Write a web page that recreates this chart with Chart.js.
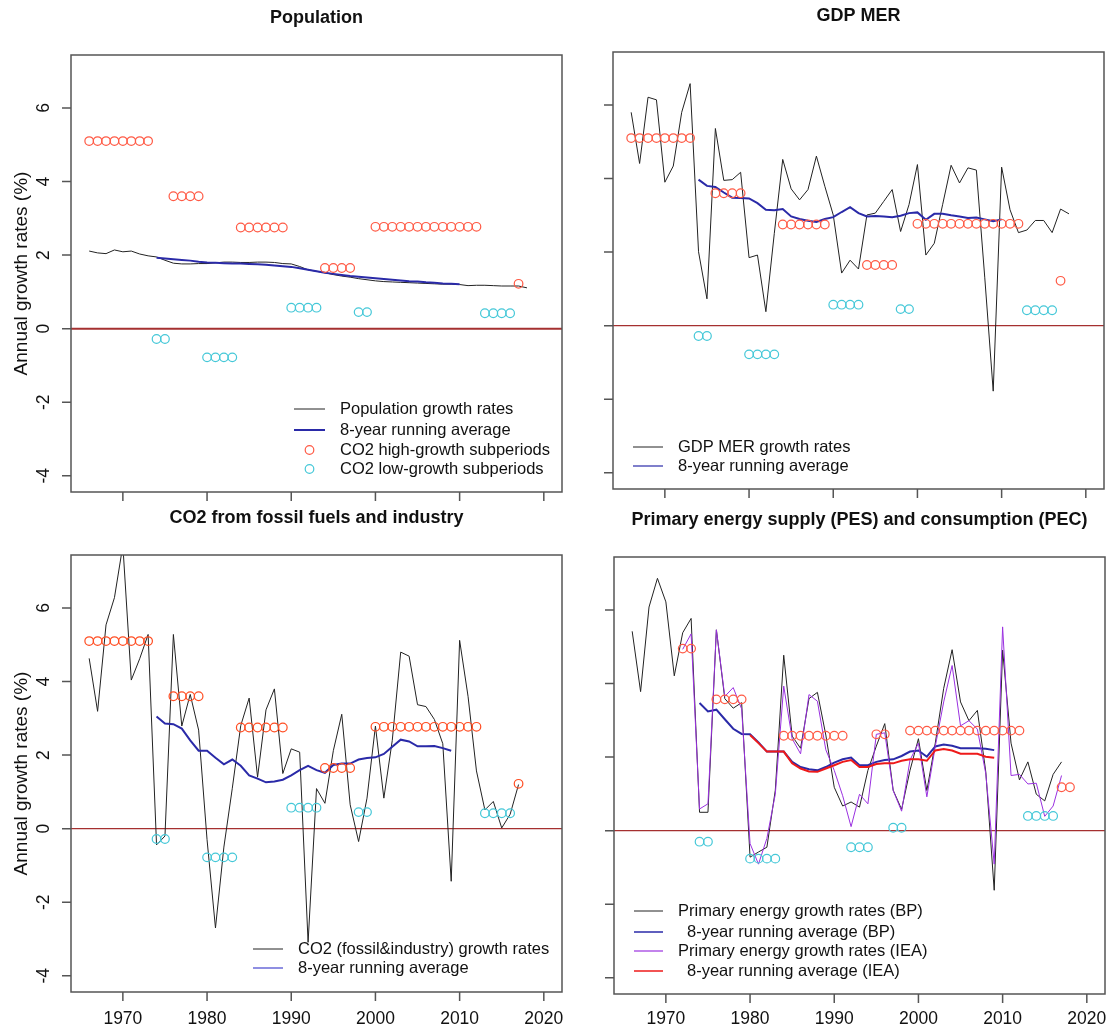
<!DOCTYPE html>
<html>
<head>
<meta charset="utf-8">
<script src="https://cdn.jsdelivr.net/npm/chart.js@4.4.1/dist/chart.umd.min.js"></script>
<style>
  html, body { margin: 0; padding: 0; background: #fff; }
  #wrap { position: relative; width: 1110px; height: 1031px; overflow: hidden; }
  #wrap canvas { position: absolute; left: 0; top: 0; }
</style>
</head>
<body>
<div id="wrap">
  <canvas id="cPop" width="1110" height="1031"></canvas>
  <canvas id="cGdp" width="1110" height="1031"></canvas>
  <canvas id="cCo2" width="1110" height="1031"></canvas>
  <canvas id="cPes" width="1110" height="1031"></canvas>
</div>
<script>
// ---- data (annual growth rates, %) ----
var xTicks = [1970, 1980, 1990, 2000, 2010, 2020];
var yTicks = [-4, -2, 0, 2, 4, 6];

// population, 1966-2018
var popStart = 1966;
var popGrowth = [2.11, 2.06, 2.04, 2.14, 2.09, 2.11, 2.03, 1.98, 1.95, 1.86,
                 1.78, 1.76, 1.76, 1.77, 1.77, 1.79, 1.81, 1.81, 1.80, 1.80,
                 1.81, 1.81, 1.80, 1.77, 1.76, 1.69, 1.60, 1.56, 1.52, 1.47,
                 1.43, 1.40, 1.36, 1.33, 1.30, 1.28, 1.27, 1.26, 1.25, 1.24,
                 1.23, 1.22, 1.21, 1.21, 1.20, 1.17, 1.18, 1.18, 1.17, 1.16,
                 1.16, 1.16, 1.11];
var popAvgStart = 1974;
var popAvg = [1.93, 1.91, 1.89, 1.87, 1.85, 1.82, 1.80, 1.79, 1.78, 1.77,
              1.77, 1.76, 1.75, 1.74, 1.72, 1.70, 1.68, 1.64, 1.60, 1.56,
              1.52, 1.49, 1.46, 1.43, 1.41, 1.39, 1.37, 1.35, 1.33, 1.31,
              1.29, 1.28, 1.26, 1.25, 1.23, 1.22, 1.21];

// GDP MER, 1966-2018
var gdpStart = 1966;
var gdpGrowth = [5.80, 4.41, 6.21, 6.14, 3.90, 4.34, 5.80, 6.58, 2.01, 0.73,
                 5.36, 3.95, 3.97, 4.17, 1.85, 1.92, 0.38, 2.51, 4.52, 3.72,
                 3.42, 3.70, 4.61, 3.79, 3.01, 1.43, 1.78, 1.54, 3.01, 3.06,
                 3.38, 3.70, 2.56, 3.29, 4.38, 1.92, 2.24, 3.30, 4.36, 3.88,
                 4.29, 4.23, 1.30, -1.78, 4.31, 3.15, 2.53, 2.60, 2.86, 2.86,
                 2.53, 3.17, 3.04];
var gdpAvgStart = 1974;
var gdpAvg = [3.97, 3.80, 3.77, 3.62, 3.48, 3.47, 3.46, 3.33, 3.15, 3.14,
              3.17, 2.97, 2.90, 2.85, 2.82, 2.90, 2.95, 3.09, 3.22, 3.06,
              2.97, 2.98, 2.97, 2.95, 2.99, 3.06, 3.08, 2.88, 3.04, 3.04,
              3.00, 2.97, 2.93, 2.94, 2.89, 2.84, 2.89];

// CO2 fossil & industry, 1966-2017
var co2Start = 1966;
var co2Growth = [4.63, 3.19, 5.54, 6.28, 7.70, 4.04, 4.62, 5.28, -0.44, -0.20,
                 5.28, 2.79, 3.65, 2.68, -0.30, -2.70, -0.50, 1.10, 2.80, 3.55,
                 1.40, 3.23, 3.80, 1.50, 2.17, 2.08, -3.09, 1.09, 0.69, 2.12,
                 3.11, 0.65, -0.35, 0.83, 2.79, 0.83, 2.40, 4.80, 4.69, 3.37,
                 3.32, 2.97, 2.31, -1.43, 5.12, 3.60, 1.57, 0.51, 0.74, 0.02,
                 0.39, 1.20];
var co2AvgStart = 1974;
var co2Avg = [3.05, 2.86, 2.84, 2.72, 2.40, 2.12, 2.12, 1.93, 1.75, 1.88,
              1.71, 1.45, 1.36, 1.26, 1.28, 1.33, 1.45, 1.59, 1.71, 1.59,
              1.52, 1.73, 1.77, 1.77, 1.88, 1.92, 1.94, 2.03, 2.23, 2.42,
              2.37, 2.24, 2.24, 2.25, 2.19, 2.12];

// primary energy, BP 1966-2017, IEA 1972-2017
var pesBpStart = 1966;
var pesBp = [5.42, 3.78, 6.08, 6.86, 6.22, 4.21, 5.38, 5.77, 0.50, 0.50,
             5.46, 3.59, 3.33, 3.48, -0.72, -0.58, -0.45, 1.10, 4.77, 2.57,
             2.24, 3.59, 3.76, 2.60, 1.18, 0.67, 0.78, 0.64, 1.64, 2.30,
             2.91, 1.10, 0.58, 1.64, 2.50, 1.09, 2.38, 3.87, 4.92, 3.50,
             2.99, 3.27, 1.60, -1.62, 4.91, 2.38, 1.38, 1.87, 0.99, 0.81,
             1.53, 1.87];
var pesBpAvgStart = 1974;
var pesBpAvg = [3.47, 3.24, 3.29, 3.03, 2.77, 2.63, 2.62, 2.40, 2.15, 2.15,
                2.15, 1.87, 1.73, 1.67, 1.64, 1.73, 1.85, 1.94, 1.99, 1.78,
                1.78, 1.87, 1.92, 1.94, 2.03, 2.15, 2.18, 2.01, 2.29, 2.34,
                2.31, 2.24, 2.24, 2.24, 2.23, 2.19];
var pesIeaStart = 1972;
var pesIea = [4.93, 5.35, 0.59, 0.73, 5.46, 3.65, 3.89, 3.31, -0.35, -0.91,
              -0.21, 0.99, 3.93, 2.50, 2.09, 3.70, 3.52, 2.20, 1.64, 0.95,
              0.11, 0.99, 0.73, 2.62, 2.66, 1.09, 0.53, 1.92, 2.38, 0.92,
              2.29, 3.50, 4.49, 2.85, 2.99, 2.76, 1.55, -0.91, 5.54, 1.50,
              1.53, 1.27, 1.29, 0.39, 0.67, 1.50];
var pesIeaAvgStart = 1980;
var pesIeaAvg = [2.60, 2.38, 2.15, 2.15, 2.15, 1.83, 1.69, 1.61, 1.60, 1.69,
                 1.78, 1.87, 1.92, 1.73, 1.73, 1.81, 1.83, 1.83, 1.90, 1.94,
                 1.94, 1.90, 2.18, 2.22, 2.18, 2.09, 2.09, 2.09, 2.01, 1.98];

// CO2 subperiods (mean growth in each subperiod)
var co2HighFrom = [1966, 1976, 1984, 1994, 2000, 2017];
var co2HighTo   = [1973, 1979, 1989, 1997, 2012, 2017];
var co2HighRate = [5.10, 3.60, 2.75, 1.65, 2.77, 1.22];
var co2LowFrom  = [1974, 1980, 1990, 1998, 2013];
var co2LowTo    = [1975, 1983, 1993, 1999, 2016];
var co2LowRate  = [-0.28, -0.78, 0.57, 0.45, 0.42];

// primary energy subperiods
var pesHighFrom = [1972, 1976, 1984, 1995, 1999, 2017];
var pesHighTo   = [1973, 1979, 1991, 1996, 2012, 2018];
var pesHighRate = [4.95, 3.57, 2.58, 2.62, 2.72, 1.18];
var pesLowFrom  = [1974, 1980, 1992, 1997, 2013];
var pesLowTo    = [1975, 1983, 1994, 1998, 2016];
var pesLowRate  = [-0.30, -0.76, -0.45, 0.08, 0.40];

// ---- helpers ----
var W = 1110, H = 1031;
var FONT = '"Liberation Sans", Arial, Helvetica, sans-serif';
var BLACK = '#222222', BLUE = '#2a2aa8', PURPLE = '#9a30e0', RED = '#ee1a1a';
var HIGH = '#ff5a45', LOW = '#45c8d8', ZERO = '#a53030';

function series(start, vals) {
    return vals.map(function (v, i) { return {x: start + i, y: v}; });
}

function subperiods(from, to, rate) {
    var pts = [];
    for (var k = 0; k < from.length; k++) {
        for (var yr = from[k]; yr <= to[k]; yr++) {
            pts.push({x: yr, y: rate[k]});
        }
    }
    return pts;
}

function lineSet(data, color, width) {
    return {data: data, borderColor: color, borderWidth: width, pointRadius: 0,
            fill: false, tension: 0};
}

function circleSet(data, color) {
    return {data: data, showLine: false, pointRadius: 4.3, pointBorderWidth: 1.2,
            pointBorderColor: color, pointBackgroundColor: 'rgba(0,0,0,0)',
            borderColor: color};
}

// box, ticks, labels, title and legend drawn the way R does it
var deco = {
    id: 'deco',
    beforeDatasetsDraw: function (chart, args, o) {
        var ctx = chart.ctx, a = chart.chartArea;
        var y0 = chart.scales.y.getPixelForValue(0);
        ctx.save();
        ctx.strokeStyle = ZERO;
        ctx.lineWidth = o.zeroWidth;
        ctx.beginPath();
        ctx.moveTo(a.left, y0);
        ctx.lineTo(a.right, y0);
        ctx.stroke();
        ctx.restore();
    },
    afterDraw: function (chart, args, o) {
        var ctx = chart.ctx, a = chart.chartArea;
        var xs = chart.scales.x, ys = chart.scales.y;
        ctx.save();
        ctx.strokeStyle = '#555';
        ctx.lineWidth = 1.5;
        ctx.strokeRect(a.left, a.top, a.right - a.left, a.bottom - a.top);

        ctx.beginPath();
        xTicks.forEach(function (t) {
            var px = xs.getPixelForValue(t);
            ctx.moveTo(px, a.bottom);
            ctx.lineTo(px, a.bottom + 9);
        });
        yTicks.forEach(function (t) {
            var py = ys.getPixelForValue(t);
            ctx.moveTo(a.left - 9, py);
            ctx.lineTo(a.left, py);
        });
        ctx.stroke();

        ctx.fillStyle = '#111';
        if (o.xLabels) {
            ctx.font = '17.5px ' + FONT;
            ctx.textAlign = 'center';
            ctx.textBaseline = 'middle';
            xTicks.forEach(function (t) {
                ctx.fillText(String(t), xs.getPixelForValue(t), 1019);
            });
        }
        if (o.yLabels) {
            ctx.font = '17.5px ' + FONT;
            ctx.textAlign = 'center';
            ctx.textBaseline = 'middle';
            yTicks.forEach(function (t) {
                ctx.save();
                ctx.translate(44, ys.getPixelForValue(t));
                ctx.rotate(-Math.PI / 2);
                ctx.fillText(String(t), 0, 0);
                ctx.restore();
            });
            ctx.save();
            ctx.font = '19px ' + FONT;
            ctx.translate(22, (a.top + a.bottom) / 2);
            ctx.rotate(-Math.PI / 2);
            ctx.fillText('Annual growth rates (%)', 0, 0);
            ctx.restore();
        }

        ctx.font = 'bold 18px ' + FONT;
        ctx.textAlign = 'center';
        ctx.textBaseline = 'middle';
        ctx.fillText(o.title, (a.left + a.right) / 2, o.titleY);

        var lg = o.legend;
        ctx.font = '16.5px ' + FONT;
        ctx.textAlign = 'left';
        lg.rows.forEach(function (r) {
            if (r.kind === 'circle') {
                ctx.strokeStyle = r.color;
                ctx.lineWidth = 1.2;
                ctx.beginPath();
                ctx.arc((lg.x0 + lg.x1) / 2, r.y, 4.3, 0, Math.PI * 2);
                ctx.stroke();
            } else {
                ctx.strokeStyle = r.color;
                ctx.lineWidth = r.width;
                ctx.beginPath();
                ctx.moveTo(lg.x0, r.y);
                ctx.lineTo(lg.x1, r.y);
                ctx.stroke();
            }
            ctx.fillStyle = '#111';
            ctx.fillText(r.text, lg.tx + (r.indent || 0), r.y);
        });
        ctx.restore();
    }
};

function makePanel(id, box, datasets, deco_opts) {
    return new Chart(document.getElementById(id).getContext('2d'), {
        type: 'line',
        data: {datasets: datasets},
        options: {
            responsive: false,
            animation: false,
            devicePixelRatio: 1,
            layout: {autoPadding: false,
                     padding: {left: box[0], top: box[1], right: W - box[2], bottom: H - box[3]}},
            scales: {
                x: {type: 'linear', display: false, min: 1963.84, max: 2022.16},
                y: {type: 'linear', display: false, min: -4.44, max: 7.44}
            },
            plugins: {
                legend: {display: false},
                tooltip: {enabled: false},
                deco: deco_opts
            }
        },
        plugins: [deco]
    });
}

var co2High = subperiods(co2HighFrom, co2HighTo, co2HighRate);
var co2Low = subperiods(co2LowFrom, co2LowTo, co2LowRate);

// datasets listed top-most first
makePanel('cPop', [71, 55, 562, 492], [
    circleSet(co2High, HIGH),
    circleSet(co2Low, LOW),
    lineSet(series(popAvgStart, popAvg), BLUE, 2),
    lineSet(series(popStart, popGrowth), BLACK, 1)
], {
    title: 'Population', titleY: 18.5, xLabels: false, yLabels: true, zeroWidth: 2,
    legend: {x0: 294, x1: 325, tx: 340, rows: [
        {y: 409, kind: 'line', color: BLACK, width: 1, text: 'Population growth rates'},
        {y: 430, kind: 'line', color: BLUE, width: 2, text: '8-year running average'},
        {y: 450, kind: 'circle', color: HIGH, text: 'CO2 high-growth subperiods'},
        {y: 469, kind: 'circle', color: LOW, text: 'CO2 low-growth subperiods'}
    ]}
});

makePanel('cGdp', [613, 52, 1104, 489], [
    circleSet(co2High, HIGH),
    circleSet(co2Low, LOW),
    lineSet(series(gdpAvgStart, gdpAvg), BLUE, 2),
    lineSet(series(gdpStart, gdpGrowth), BLACK, 1)
], {
    title: 'GDP MER', titleY: 16.5, xLabels: false, yLabels: false, zeroWidth: 1.2,
    legend: {x0: 633, x1: 663, tx: 678, rows: [
        {y: 447, kind: 'line', color: BLACK, width: 1, text: 'GDP MER growth rates'},
        {y: 466, kind: 'line', color: BLUE, width: 1.2, text: '8-year running average'}
    ]}
});

makePanel('cCo2', [71, 555, 562, 992], [
    circleSet(co2High, '#ff4d22'),
    circleSet(co2Low, LOW),
    lineSet(series(co2AvgStart, co2Avg), BLUE, 2),
    lineSet(series(co2Start, co2Growth), BLACK, 1)
], {
    title: 'CO2 from fossil fuels and industry', titleY: 518, xLabels: true, yLabels: true, zeroWidth: 1.2,
    legend: {x0: 253, x1: 283, tx: 298, rows: [
        {y: 949, kind: 'line', color: BLACK, width: 1, text: 'CO2 (fossil&industry) growth rates'},
        {y: 968, kind: 'line', color: '#6a6ad8', width: 1.5, text: '8-year running average'}
    ]}
});

makePanel('cPes', [614, 557, 1105, 994], [
    circleSet(subperiods(pesHighFrom, pesHighTo, pesHighRate), HIGH),
    circleSet(subperiods(pesLowFrom, pesLowTo, pesLowRate), LOW),
    lineSet(series(pesIeaAvgStart, pesIeaAvg), RED, 2),
    lineSet(series(pesIeaStart, pesIea), PURPLE, 1),
    lineSet(series(pesBpAvgStart, pesBpAvg), BLUE, 2),
    lineSet(series(pesBpStart, pesBp), BLACK, 1)
], {
    title: 'Primary energy supply (PES) and consumption (PEC)', titleY: 520.5,
    xLabels: true, yLabels: false, zeroWidth: 1.2,
    legend: {x0: 634, x1: 663, tx: 678, rows: [
        {y: 911, kind: 'line', color: BLACK, width: 1, text: 'Primary energy growth rates (BP)'},
        {y: 932, kind: 'line', color: BLUE, width: 1.5, text: '8-year running average (BP)', indent: 9},
        {y: 951, kind: 'line', color: PURPLE, width: 1.2, text: 'Primary energy growth rates (IEA)'},
        {y: 971, kind: 'line', color: RED, width: 1.5, text: '8-year running average (IEA)', indent: 9}
    ]}
});
</script>
</body>
</html>
